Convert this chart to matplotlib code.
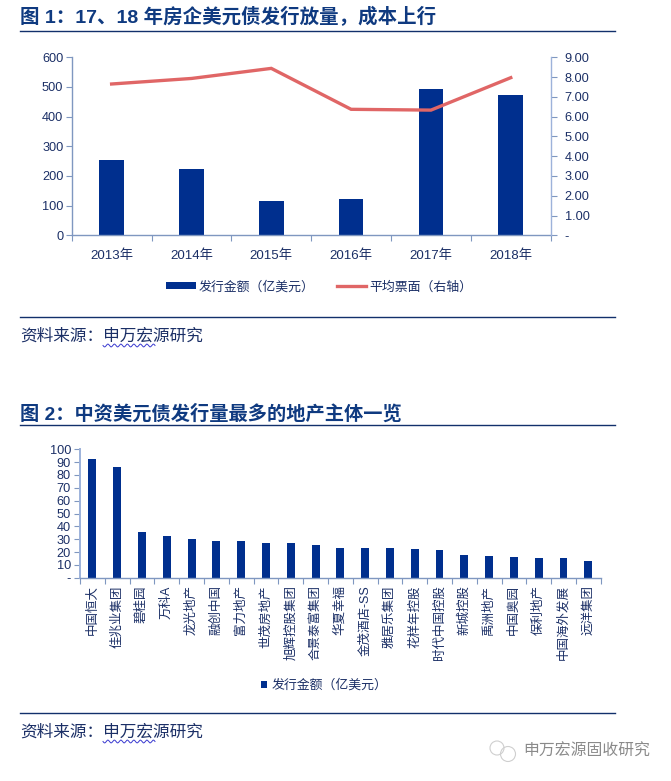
import numpy as np
import matplotlib
matplotlib.use('Agg')
import matplotlib.pyplot as plt
from matplotlib.patches import Ellipse

plt.rcParams['font.family'] = ['Liberation Sans', 'Noto Sans CJK SC', 'DejaVu Sans']
plt.rcParams['axes.unicode_minus'] = False

years = ['2013年', '2014年', '2015年', '2016年', '2017年', '2018年']
issue_amount = [254, 223, 115, 121, 493, 472]
avg_coupon = [7.65, 7.93, 8.44, 6.37, 6.33, 7.97]

issuers = ['中国恒大', '佳兆业集团', '碧桂园', '万科A', '龙光地产', '融创中国', '富力地产',
           '世茂房地产', '旭辉控股集团', '合景泰富集团', '华夏幸福', '金茂酒店-SS', '雅居乐集团',
           '花样年控股', '时代中国控股', '新城控股', '禹洲地产', '中国奥园', '保利地产',
           '中国海外发展', '远洋集团']
issuer_amount = [92.2, 85.9, 35.3, 32.5, 29.9, 28.6, 28.3, 27.3, 26.7, 25.4, 23.1,
                 22.8, 22.8, 22.1, 21.3, 17.9, 16.9, 16.1, 15.0, 15.0, 13.0]

NAVY = '#002F8E'
RED = '#E06666'
TEXT = '#1B2F66'
AXIS = '#7F97C0'
RULE = '#12306B'
W, H = 671, 781

fig = plt.figure(figsize=(W / 100, H / 100), dpi=100)
fig.patch.set_facecolor('white')


def px_axes(left, top, right, bottom):
    return fig.add_axes([left / W, 1 - bottom / H, (right - left) / W, (bottom - top) / H])


def px_text(x, y, s, **kw):
    fig.text(x / W, 1 - y / H, s, **kw)


def rule(y):
    fig.add_artist(plt.Line2D([20 / W, 615 / W], [1 - y / H, 1 - y / H], color=RULE, lw=1.0))


def source_note(y):
    px_text(20, y, '资料来源：申万宏源研究', fontsize=12, color=TEXT, va='center')
    # spell-check squiggle under 申万宏源
    xs = np.linspace(103, 155, 160)
    ys = y + 9.5 + 1.4 * np.sin((xs - 103) * 2 * np.pi / 6.5)
    fig.add_artist(plt.Line2D(xs / W, 1 - ys / H, color='#3A3AD0', lw=0.7))


def style_axes(ax):
    for side in ['top', 'right']:
        ax.spines[side].set_visible(False)
    for side in ['left', 'bottom']:
        ax.spines[side].set_color(AXIS)
        ax.spines[side].set_linewidth(1.0)
    ax.tick_params(axis='both', color=AXIS, labelcolor=TEXT, length=4, width=0.8, labelsize=9.2)


# Figure 1
px_text(20, 17, '图 1：17、18 年房企美元债发行放量，成本上行', fontsize=14, fontweight='bold',
        color='#0F3A80', va='center')
rule(30.5)

ax1 = px_axes(71.7, 57.3, 550.7, 235.3)
x1 = np.arange(len(years))
bars = ax1.bar(x1, issue_amount, width=0.31, color=NAVY, label='发行金额（亿美元）')
ax1.set_xlim(-0.5, len(years) - 0.5)
ax1.set_ylim(0, 600)
ax1.set_yticks(range(0, 601, 100))
ax1.set_xticks(np.arange(-0.5, len(years), 1))
ax1.set_xticklabels([])
for xi, label in zip(x1, years):
    ax1.annotate(label, (xi, 0), xytext=(0, -14.5), textcoords='offset points', ha='center',
                 va='center', fontsize=9.6, color=TEXT, xycoords=('data', 'axes fraction'))
style_axes(ax1)
ax1.tick_params(axis='x', direction='out', length=4)
ax1.tick_params(axis='y', direction='out', length=4, pad=2)

ax1r = ax1.twinx()
line, = ax1r.plot(x1, avg_coupon, color=RED, lw=2.4, solid_joinstyle='miter', label='平均票面（右轴）')
ax1r.set_ylim(0, 9)
ax1r.set_yticks(range(10))
ax1r.set_yticklabels(['-'] + [f'{v:.2f}' for v in range(1, 10)])
for side in ['top', 'left', 'bottom']:
    ax1r.spines[side].set_visible(False)
ax1r.spines['right'].set_color('#9DB2DA')
ax1r.spines['right'].set_linewidth(1.0)
ax1r.tick_params(axis='y', color=AXIS, labelcolor=TEXT, length=4, width=0.8, labelsize=9.2, pad=6)

fig.legend(handles=[bars, line], loc='center', bbox_to_anchor=(319 / W, 1 - 287 / H), ncol=2,
           frameon=False, fontsize=9.3, labelcolor=TEXT, handlelength=2.3, handleheight=0.5,
           handletextpad=0.2, columnspacing=1.75)

rule(317.3)
source_note(336)

# Figure 2
px_text(20, 414, '图 2：中资美元债发行量最多的地产主体一览', fontsize=13.85, fontweight='bold',
        color='#0F3A80', va='center')
rule(425)

ax2 = px_axes(80, 449.3, 600.7, 577.7)
x2 = np.arange(len(issuers))
bars2 = ax2.bar(x2, issuer_amount, width=0.32, color=NAVY, label='发行金额（亿美元）')
ax2.set_xlim(-0.5, len(issuers) - 0.5)
ax2.set_ylim(0, 100)
ax2.set_yticks(range(0, 101, 10))
ax2.set_yticklabels(['-'] + [str(v) for v in range(10, 101, 10)])
ax2.set_xticks(np.arange(-0.5, len(issuers), 1))
ax2.set_xticklabels([])
for xi, label in zip(x2, issuers):
    ax2.annotate(label, (xi, 0), xytext=(0, -5.5), textcoords='offset points', ha='center',
                 va='top', rotation=90, fontsize=9, color=TEXT, xycoords=('data', 'axes fraction'))
style_axes(ax2)
ax2.spines['left'].set_color('#9DB2DA')
ax2.spines['left'].set_linewidth(1.4)
ax2.tick_params(axis='y', pad=2.5, labelsize=9.2, length=4)

fig.legend(handles=[bars2], loc='center', bbox_to_anchor=(324 / W, 1 - 685.5 / H), frameon=False,
           fontsize=9.3, labelcolor=TEXT, handlelength=0.5, handleheight=0.5, handletextpad=0.3)

rule(713.3)
source_note(732)

# WeChat watermark
px_text(523, 751.5, '申万宏源固收研究', fontsize=11.4, color='#8A8A8A', va='center')
for cx, cy, r in [(497, 748, 7), (508, 754, 7.5)]:
    fig.add_artist(Ellipse((cx / W, 1 - cy / H), 2 * r / W, 2 * r / H, transform=fig.transFigure,
                           fill=False, ec='#CFCFCF', lw=0.8))

fig.savefig('out.png', dpi=100)
